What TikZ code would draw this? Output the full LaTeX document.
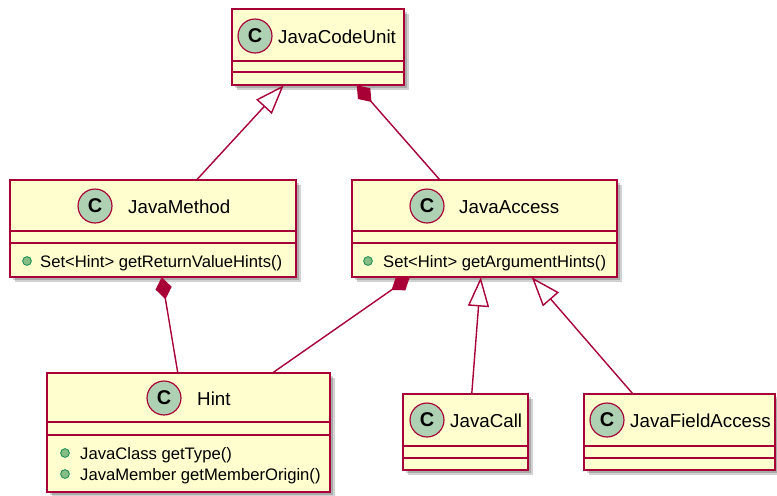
\documentclass[tikz,border=0pt]{standalone}
\usepackage{fontspec}
\setmainfont{Liberation Sans}
\usetikzlibrary{arrows.meta,calc,fit}

\definecolor{umlred}{HTML}{A80036}
\definecolor{umlfill}{HTML}{FEFECE}
\definecolor{umlspot}{HTML}{ADD1B2}
\definecolor{umldot}{HTML}{84BE84}
\definecolor{umldotline}{HTML}{038048}

\tikzset{
    classbox/.style={draw=umlred, fill=umlfill, line width=1.2pt},
    boxshadow/.style={fill=black, opacity=0.18},
    divider/.style={draw=umlred, line width=1.2pt},
    spot/.style={circle, draw=umlred, fill=umlspot, line width=1pt, minimum size=29pt, inner sep=0pt, font=\fontsize{17}{17}\selectfont\bfseries},
    classname/.style={anchor=base west, inner sep=0pt, font=\fontsize{16}{18}\selectfont},
    member/.style={anchor=base west, inner sep=0pt, font=\fontsize{14.2}{16}\selectfont},
    pubdot/.style={circle, draw=umldotline, fill=umldot, minimum size=7.5pt, inner sep=0pt, line width=0.6pt},
    inherit/.style={draw=umlred, line width=1.2pt, -{Triangle[open, length=25pt, width=18pt]}},
    compose/.style={draw=umlred, line width=1.2pt, {Diamond[length=19pt, width=14pt]}-},
}

% name, x1, y1, x2, y2, first divider, second divider
\newcommand{\umlclass}[7]{
    \fill[boxshadow] (#2+5,#3+5) rectangle (#4+5,#5+5);
    \fill[boxshadow] (#2+3,#3+3) rectangle (#4+3,#5+3);
    \draw[classbox] (#2,#3) rectangle (#4,#5);
    \draw[divider] (#2,#6) -- (#4,#6);
    \draw[divider] (#2,#7) -- (#4,#7);
    \node[fit={(#2,#3) (#4,#5)}, inner sep=0pt] (#1) {};
}

\begin{document}
\begin{tikzpicture}[x=0.03cm, y=-0.03cm]
    \useasboundingbox (0,0) rectangle (777,495);

    \umlclass{jcu}{232}{9}{404}{85}{61}{72}
    \node[spot] (jcu-c) at (255,36) {C};
    \node[classname] (jcu-t) at (278,43) {JavaCodeUnit};

    \umlclass{jm}{10}{180}{296}{277}{231}{243}
    \node[spot] (jm-c) at (95,206) {C};
    \node[classname] (jm-t) at (128,213) {JavaMethod};
    \node[pubdot] (jm-d) at (27,261) {};
    \node[member] (jm-m) at (40,267) {Set<Hint> getReturnValueHints()};

    \umlclass{ja}{352}{180}{617}{277}{231}{243}
    \node[spot] (ja-c) at (427,206) {C};
    \node[classname] (ja-t) at (459,213) {JavaAccess};
    \node[pubdot] (ja-d) at (368,261) {};
    \node[member] (ja-m) at (383,267) {Set<Hint> getArgumentHints()};

    \umlclass{hint}{47}{373}{330}{492}{422}{435}
    \node[spot] (hint-c) at (164,398) {C};
    \node[classname] (hint-t) at (197,405) {Hint};
    \node[pubdot] (hint-d1) at (65,453) {};
    \node[member] (hint-m1) at (80,459) {JavaClass getType()};
    \node[pubdot] (hint-d2) at (65,474) {};
    \node[member] (hint-m2) at (80,480) {JavaMember getMemberOrigin()};

    \umlclass{jc}{403}{394}{528}{470}{446}{458}
    \node[spot] (jc-c) at (427,420) {C};
    \node[classname] (jc-t) at (450,427) {JavaCall};

    \umlclass{jfa}{584}{394}{775}{470}{446}{458}
    \node[spot] (jfa-c) at (607,420) {C};
    \node[classname] (jfa-t) at (630,427) {JavaFieldAccess};

    \draw[inherit] ($(jm.north west)+(187,0)$) -- ($(jcu.south west)+(52,0)$);
    \draw[compose] ($(jcu.south west)+(125,0)$) -- ($(ja.north west)+(88,0)$);
    \draw[compose] ($(jm.south west)+(152,0)$) -- ($(hint.north west)+(131,0)$);
    \draw[compose] ($(ja.south west)+(58,0)$) -- ($(hint.north west)+(226,0)$);
    \draw[inherit] ($(jc.north west)+(69,0)$) -- ($(ja.south west)+(129,0)$);
    \draw[inherit] ($(jfa.north west)+(49,0)$) -- ($(ja.south west)+(180,0)$);
\end{tikzpicture}
\end{document}
